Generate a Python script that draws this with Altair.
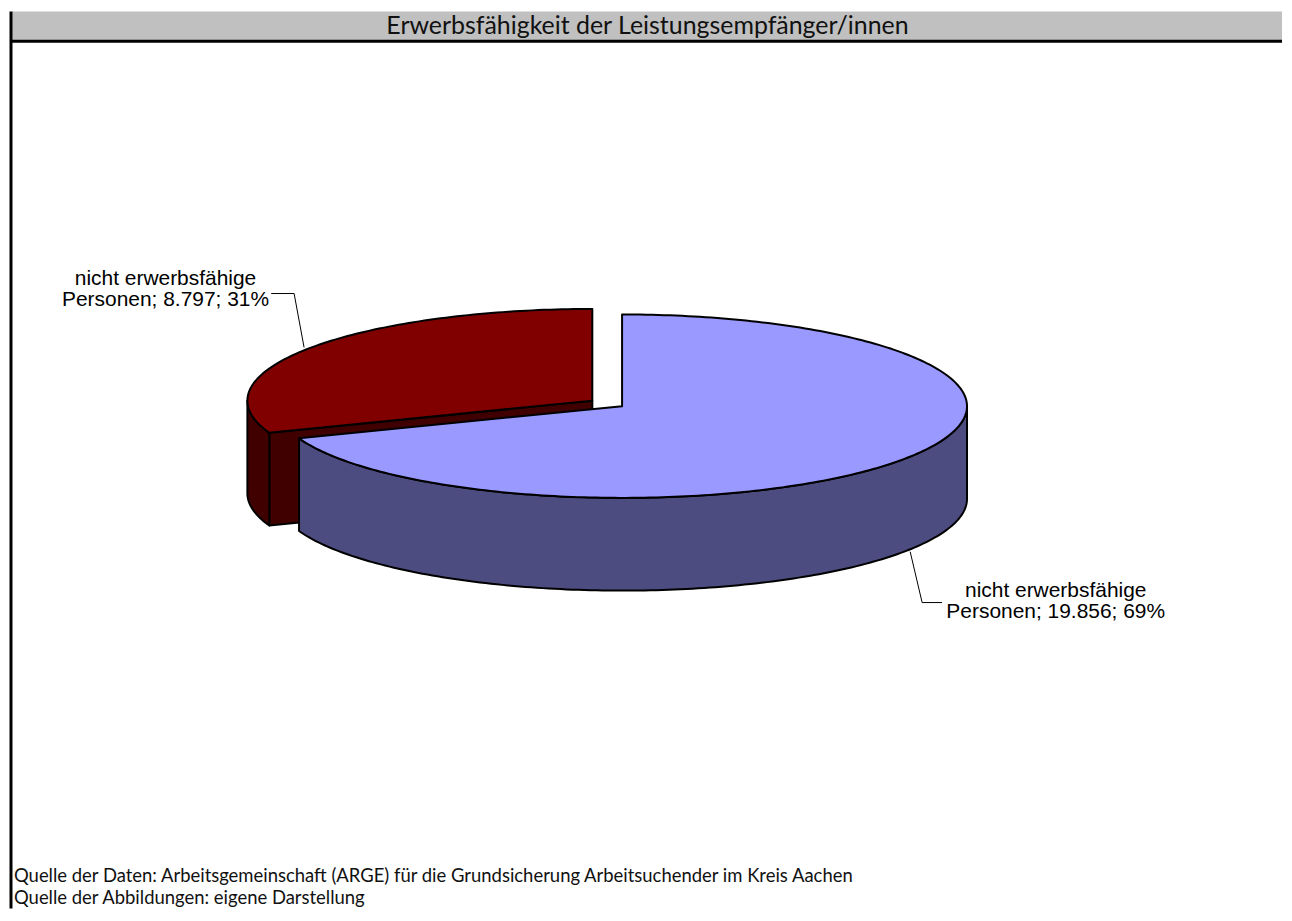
import altair as alt
import pandas as pd
import numpy as np

# ---- data ----
categories = ["erwerbsfähige Personen", "nicht erwerbsfähige Personen"]
values = [19856, 8797]
label_texts = ["nicht erwerbsfähige\nPersonen; 19.856; 69%",
               "nicht erwerbsfähige\nPersonen; 8.797; 31%"]
top_colors = ["#9999FF", "#800000"]
side_colors = ["#4C4C80", "#400000"]
explode = [0.0, 0.105]

title_text = "Erwerbsfähigkeit der Leistungsempfänger/innen"
source_lines = ["Quelle der Daten: Arbeitsgemeinschaft (ARGE) für die Grundsicherung Arbeitsuchender im Kreis Aachen",
                "Quelle der Abbildungen: eigene Darstellung"]

# ---- layout (pixels) ----
W, H = 1276, 900
RX = 346.0          # px per unit of pie radius
CX, CY = 614.0, 396.0
TILT = 92.0 / RX
DEPTH = 93.0 / RX
FONT = "Lato"

# ---- pie faces from values (angles clockwise from 12 o'clock) ----
total = sum(values)
bounds = np.concatenate([[0], np.cumsum(values)]) / total * 360.0
rows = []


def add_face(face, slice_i, pts):
    a0, a1 = bounds[slice_i], bounds[slice_i + 1]
    mid = (a0 + a1) / 2
    for k, (ang, r, lev) in enumerate(pts):
        rows.append(dict(face=face, k=k, ang=ang, r=r, lev=lev,
                         ex=explode[slice_i], mid=mid))


def arc(a, b, step=1.0):
    n = max(2, int(abs(b - a) / step) + 1)
    return list(np.linspace(a, b, n))


faces = []
for i in range(len(values)):
    a0, a1 = bounds[i], bounds[i + 1]
    # radial face at start angle (visible if facing viewer)
    if 180 < a0 < 360:
        add_face(f"rad{i}", i, [(a0, 0, 0), (a0, 1, 0), (a0, 1, 1), (a0, 0, 1)])
        faces.append((0, f"rad{i}", side_colors[i]))
    # outer wall visible between 90 and 270
    lo, hi = max(a0, 90), min(a1, 270)
    if hi > lo:
        pts = [(a, 1, 0) for a in arc(lo, hi)] + [(a, 1, 1) for a in arc(hi, lo)]
        add_face(f"wall{i}", i, pts)
        faces.append((1, f"wall{i}", side_colors[i]))
    # top
    pts = [(a0, 0, 0)] + [(a, 1, 0) for a in arc(a0, a1)]
    add_face(f"top{i}", i, pts)
    faces.append((2, f"top{i}", top_colors[i]))

df = pd.DataFrame(rows)
faces.sort(key=lambda f: (f[0], -int(f[1][-1])))

xdom = [-CX / RX, (W - CX) / RX]
ydom = [-(H - CY) / RX, CY / RX]
xs = alt.X("px:Q", scale=alt.Scale(domain=xdom, nice=False, zero=False), axis=None)
ys = alt.Y("py:Q", scale=alt.Scale(domain=ydom, nice=False, zero=False), axis=None)

base = alt.Chart(df).transform_calculate(
    px=f"datum.ex*sin(datum.mid*PI/180) + datum.r*sin(datum.ang*PI/180)",
    py=f"{TILT}*(datum.ex*cos(datum.mid*PI/180) + datum.r*cos(datum.ang*PI/180)) - {DEPTH}*datum.lev",
)

layers = []
one = pd.DataFrame({"a": [0]})
# title bar and frame
layers.append(alt.Chart(one).mark_rect(color="#C0C0C0").encode(
    x=alt.value(2), x2=alt.value(W), y=alt.value(0), y2=alt.value(29)))
layers.append(alt.Chart(one).mark_rule(color="black", strokeWidth=3).encode(
    x=alt.value(0), x2=alt.value(W), y=alt.value(30)))
layers.append(alt.Chart(one).mark_rule(color="black", strokeWidth=3).encode(
    x=alt.value(1), y=alt.value(0), y2=alt.value(H)))
layers.append(alt.Chart(pd.DataFrame({"t": [title_text]})).mark_text(
    font=FONT, fontSize=25, color="#111111", align="center", baseline="alphabetic").encode(
    x=alt.value(639.5), y=alt.value(22.5), text="t:N"))

for _, name, col in faces:
    layers.append(base.transform_filter(alt.datum.face == name).mark_line(
        fill=col, stroke="black", strokeWidth=2, interpolate="linear-closed",
        strokeJoin="round").encode(x=xs, y=ys, order="k:Q"))

# leader lines
for (x1, y1, x2, y2) in [(262, 283, 285, 283), (285, 283, 295, 337),
                         (903, 542, 915, 593), (915, 593, 935, 593)]:
    layers.append(alt.Chart(one).mark_rule(color="black", strokeWidth=1).encode(
        x=alt.value(x1), y=alt.value(y1), x2=alt.value(x2), y2=alt.value(y2)))

# labels
lab = pd.DataFrame({"t": label_texts})
for i, (lx, ly) in enumerate([(1049, 587), (156, 274)]):
    layers.append(alt.Chart(lab.iloc[[i]]).mark_text(
        font="Liberation Sans", fontSize=21, lineHeight=22, lineBreak="\n",
        align="center", baseline="alphabetic", color="black").encode(
        x=alt.value(lx), y=alt.value(ly), text="t:N"))

# source lines
for i, yy in enumerate([873, 895]):
    layers.append(alt.Chart(pd.DataFrame({"t": [source_lines[i]]})).mark_text(
        font=FONT, fontSize=18.5, align="left", baseline="alphabetic", color="#111111").encode(
        x=alt.value(4), y=alt.value(yy), text="t:N"))

chart = alt.layer(*layers).properties(width=W, height=H, padding=0).configure_view(stroke=None)
chart.save("out.html", embed_options={"renderer": "svg", "actions": False})
